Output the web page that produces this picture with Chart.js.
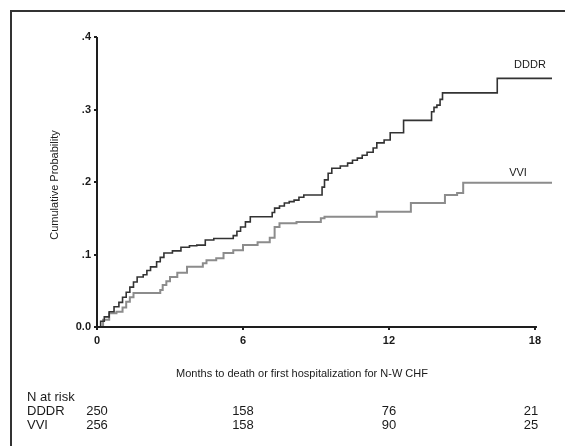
<!DOCTYPE html>
<html>
<head>
<meta charset="utf-8">
<script src="https://cdn.jsdelivr.net/npm/chart.js@4"></script>
<style>
  html, body { margin: 0; padding: 0; background: #fff; }
  #wrap { width: 565px; height: 446px; }
</style>
</head>
<body>
<div id="wrap"><canvas id="myChart" width="565" height="446"></canvas></div>
<script>
// Kaplan-Meier style cumulative probability
const ddorMonths = [0, 0.15, 0.3, 0.5, 0.7, 0.9, 1.05, 1.2, 1.35, 1.5, 1.65, 1.9, 2.05, 2.2, 2.45, 2.6, 2.75, 3.1, 3.45, 3.8,
    4.1, 4.45, 4.8, 5.6, 5.75, 5.9, 6.1, 6.3, 7.2, 7.3, 7.5, 7.7, 7.9, 8.1, 8.3, 8.5, 9.25, 9.35, 9.5, 9.65,
    10.0, 10.3, 10.5, 10.7, 10.9, 11.1, 11.35, 11.5, 11.8, 12.05, 12.6, 13.75, 13.85, 13.97, 14.1, 14.2, 16.45, 18.7];
const ddorProb = [0, 0.008, 0.014, 0.021, 0.028, 0.034, 0.041, 0.048, 0.055, 0.062, 0.069, 0.072, 0.078, 0.083, 0.09, 0.096, 0.102, 0.105, 0.11, 0.112,
    0.113, 0.12, 0.122, 0.126, 0.132, 0.138, 0.145, 0.152, 0.158, 0.164, 0.167, 0.171, 0.173, 0.175, 0.179, 0.182, 0.193, 0.203, 0.212, 0.219,
    0.222, 0.226, 0.23, 0.233, 0.237, 0.241, 0.247, 0.254, 0.258, 0.268, 0.285, 0.297, 0.303, 0.306, 0.314, 0.323, 0.343, 0.343];

const vviMonths = [0, 0.25, 0.5, 0.8, 1.05, 1.2, 1.35, 1.5, 2.6, 2.7, 2.85, 3.0, 3.3, 3.7, 4.35, 4.5, 4.9, 5.2, 5.6, 6.0,
    6.6, 7.1, 7.3, 7.5, 8.2, 9.2, 9.35, 11.5, 12.9, 14.3, 14.8, 15.05, 18.7];
const vviProb = [0, 0.01, 0.019, 0.021, 0.027, 0.035, 0.041, 0.047, 0.051, 0.058, 0.063, 0.069, 0.075, 0.083, 0.088, 0.092, 0.095, 0.102, 0.106, 0.113,
    0.117, 0.123, 0.138, 0.143, 0.145, 0.15, 0.152, 0.159, 0.171, 0.182, 0.185, 0.199, 0.199];

const xTicks = [0, 6, 12, 18];
const yTicks = [0, 0.1, 0.2, 0.3, 0.4];
const yTickLabels = ['0.0', '.1', '.2', '.3', '.4'];

const groups = ['DDDR', 'VVI'];
const riskDDDR = [250, 158, 76, 21];
const riskVVI = [256, 158, 90, 25];

const xTitle = 'Months to death or first hospitalization for N-W CHF';
const yTitle = 'Cumulative Probability';

const FONT = '"Liberation Sans", Arial, sans-serif';

function toPoints(xs, ys) {
    return xs.map((x, i) => ({ x: x, y: ys[i] }));
}

// frame, axis lines, titles, curve labels and the risk table
const extras = {
    id: 'extras',
    afterDraw(chart) {
        const ctx = chart.ctx;
        const xs = chart.scales.x;
        const ys = chart.scales.y;
        ctx.save();

        // frame
        ctx.strokeStyle = '#333';
        ctx.lineWidth = 2;
        ctx.beginPath();
        ctx.moveTo(11, 446);
        ctx.lineTo(11, 11);
        ctx.lineTo(565, 11);
        ctx.stroke();

        // axes
        ctx.strokeStyle = '#1e1e1e';
        ctx.lineWidth = 2;
        ctx.beginPath();
        ctx.moveTo(xs.getPixelForValue(0), ys.getPixelForValue(0.4));
        ctx.lineTo(xs.getPixelForValue(0), ys.getPixelForValue(0));
        ctx.lineTo(xs.getPixelForValue(18) + 2, ys.getPixelForValue(0));
        ctx.stroke();

        ctx.fillStyle = '#1a1a1a';
        ctx.textBaseline = 'middle';

        // axis titles
        ctx.font = '11px ' + FONT;
        ctx.textAlign = 'center';
        ctx.fillText(xTitle, 302, 374);
        ctx.save();
        ctx.translate(55, 185);
        ctx.rotate(-Math.PI / 2);
        ctx.fillText(yTitle, 0, 0);
        ctx.restore();

        // curve labels
        ctx.font = '11px ' + FONT;
        ctx.fillText(groups[0], 530, 65);
        ctx.fillText(groups[1], 518, 173);

        // number at risk
        ctx.font = '13px ' + FONT;
        ctx.textAlign = 'left';
        ctx.fillText('N at risk', 27, 397);
        ctx.fillText(groups[0], 27, 411);
        ctx.fillText(groups[1], 27, 425);
        ctx.textAlign = 'center';
        xTicks.forEach((m, i) => {
            const px = xs.getPixelForValue(m) - (i === xTicks.length - 1 ? 4 : 0);
            ctx.fillText(String(riskDDDR[i]), px, 411);
            ctx.fillText(String(riskVVI[i]), px, 425);
        });
        ctx.restore();
    }
};

const ctx = document.getElementById('myChart').getContext('2d');
new Chart(ctx, {
    type: 'line',
    data: {
        datasets: [{
            label: groups[0],
            data: toPoints(ddorMonths, ddorProb),
            borderColor: '#333333',
            borderWidth: 1.6,
            stepped: true,
            pointRadius: 0,
            fill: false
        }, {
            label: groups[1],
            data: toPoints(vviMonths, vviProb),
            borderColor: '#8c8c8c',
            borderWidth: 2,
            stepped: true,
            pointRadius: 0,
            fill: false
        }]
    },
    options: {
        responsive: false,
        animation: false,
        devicePixelRatio: 1,
        layout: { padding: { left: 0, top: 37, right: 13, bottom: 0 } },
        plugins: {
            legend: { display: false },
            tooltip: { enabled: false }
        },
        scales: {
            x: {
                type: 'linear',
                min: 0,
                max: 18.7,
                afterFit: (scale) => { scale.height = 119; },
                afterBuildTicks: (scale) => { scale.ticks = xTicks.map(v => ({ value: v })); },
                grid: { drawOnChartArea: false, drawTicks: true, tickLength: 3, color: '#1e1e1e', lineWidth: 2 },
                border: { display: false },
                ticks: {
                    padding: 4,
                    color: '#1a1a1a',
                    font: { family: FONT, size: 11, weight: 'bold' },
                    maxRotation: 0
                }
            },
            y: {
                type: 'linear',
                min: 0,
                max: 0.4,
                afterFit: (scale) => { scale.width = 97; },
                afterBuildTicks: (scale) => { scale.ticks = yTicks.map(v => ({ value: v })); },
                grid: { drawOnChartArea: false, drawTicks: true, tickLength: 3, color: '#1e1e1e', lineWidth: 2 },
                border: { display: false },
                ticks: {
                    padding: 3,
                    color: '#1a1a1a',
                    font: { family: FONT, size: 11, weight: 'bold' },
                    callback: (v) => yTickLabels[yTicks.findIndex(t => Math.abs(t - v) < 1e-9)]
                }
            }
        }
    },
    plugins: [extras]
});
</script>
</body>
</html>
